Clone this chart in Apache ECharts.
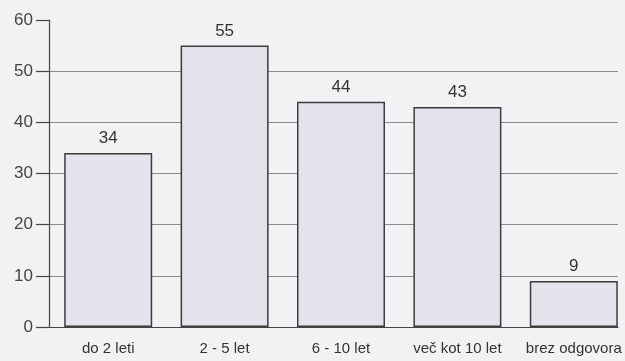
<!DOCTYPE html>
<html>
<head>
<meta charset="utf-8">
<script src="https://cdn.jsdelivr.net/npm/echarts@6/dist/echarts.min.js"></script>
<style>
  html, body { margin: 0; padding: 0; background: #f1f2f3; }
  #chart { width: 625px; height: 361px; }
</style>
</head>
<body>
<div id="chart"></div>
<script>
// Respondents by length of experience
const categories = ['do 2 leti', '2 - 5 let', '6 - 10 let', 'več kot 10 let', 'brez odgovora'];
const counts = [34, 55, 44, 43, 9];
const yTicks = { min: 0, max: 60, step: 10 };

const fontFamily = '"Liberation Sans", Arial, sans-serif';
const chart = echarts.init(document.getElementById('chart'), null, { renderer: 'canvas' });

chart.setOption({
  backgroundColor: '#f1f2f3',
  animation: false,
  grid: [
    // frame: value axis, ticks and horizontal rules
    { left: 49, right: 7, top: 20, bottom: 34, outerBoundsMode: 'none' },
    // bars and category labels
    { left: 50, width: 582, top: 20, bottom: 34, outerBoundsMode: 'none' }
  ],
  xAxis: [
    {
      gridIndex: 0, type: 'value', min: 0, max: 1,
      axisLine: { show: true, lineStyle: { color: '#444', width: 1.2 } },
      axisTick: { show: false }, axisLabel: { show: false }, splitLine: { show: false }
    },
    {
      gridIndex: 1, type: 'category', data: categories,
      axisLine: { show: false }, axisTick: { show: false },
      axisLabel: { interval: 0, color: '#333', fontSize: 15, fontFamily: fontFamily, margin: 14 }
    }
  ],
  yAxis: [
    {
      gridIndex: 0, type: 'value', min: yTicks.min, max: yTicks.max, interval: yTicks.step,
      axisLine: { show: true, lineStyle: { color: '#444', width: 1.2 } },
      axisTick: { show: true, length: 13, lineStyle: { color: '#444', width: 1.2 } },
      axisLabel: { color: '#444', fontSize: 17, fontFamily: fontFamily, margin: 16 },
      splitLine: { show: true, showMinLine: false, showMaxLine: false, lineStyle: { color: '#8a8b8d', width: 1 } }
    },
    {
      gridIndex: 1, type: 'value', min: yTicks.min, max: yTicks.max, show: false
    }
  ],
  series: [
    {
      type: 'bar',
      xAxisIndex: 1, yAxisIndex: 1,
      data: counts,
      barWidth: 88,
      itemStyle: { color: '#e3e4eb', borderColor: '#3c3c3c', borderWidth: 1.5 },
      label: {
        show: true, position: 'top', distance: 6,
        color: '#333', fontSize: 17, fontFamily: fontFamily
      }
    }
  ]
});
</script>
</body>
</html>
